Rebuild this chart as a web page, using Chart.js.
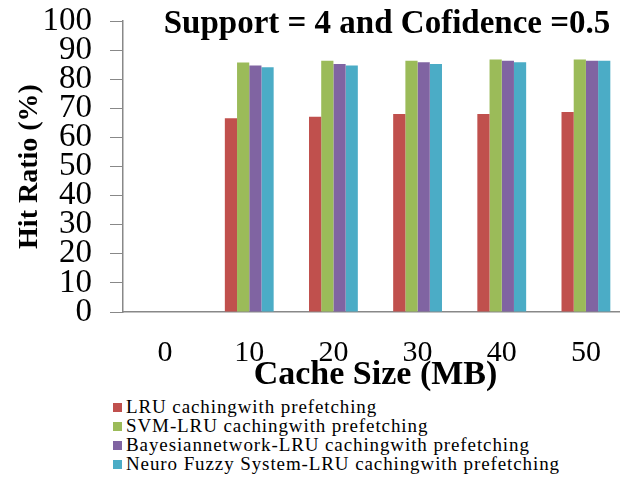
<!DOCTYPE html>
<html>
<head>
<meta charset="utf-8">
<script src="https://cdn.jsdelivr.net/npm/chart.js@4"></script>
<style>
  body { margin: 0; background: #fff; overflow: hidden; width: 620px; height: 485px; position: relative; }
  #wrap { position: absolute; left: 0; top: 0; width: 628px; height: 396px; }
  #legend { position: absolute; left: 113px; top: 397px; font-family: 'Liberation Serif', serif; font-size: 19px; letter-spacing: 0.9px; color: #000; }
  #legend div { height: 19px; line-height: 19px; white-space: nowrap; }
  #legend span { display: inline-block; width: 9px; height: 9px; margin-right: 4px; vertical-align: 1px; }
</style>
</head>
<body>
<div id="wrap"><canvas id="mychart"></canvas></div>
<div id="legend"></div>
<script>
const chartTitle = 'Support = 4 and Cofidence =0.5'
const cacheSizes = ['0', '10', '20', '30', '40', '50']
const lru = [null, 66.6, 67.1, 68.0, 68.0, 68.7]
const svmLru = [null, 85.7, 86.3, 86.3, 86.8, 86.8]
const bayesLru = [null, 84.7, 85.2, 85.8, 86.3, 86.3]
const neuroLru = [null, 84.1, 84.7, 85.2, 85.8, 86.3]
const seriesNames = [
    'LRU cachingwith prefetching',
    'SVM-LRU cachingwith prefetching',
    'Bayesiannetwork-LRU cachingwith prefetching',
    'Neuro Fuzzy System-LRU cachingwith prefetching'
]
const colors = ['#C0504D', '#9BBB59', '#8064A2', '#4BACC6']

const serif = "'Liberation Serif', 'Times New Roman', serif"

const chartData = {
    labels: cacheSizes,
    datasets: [lru, svmLru, bayesLru, neuroLru].map((d, i) => ({
        label: seriesNames[i],
        data: d,
        backgroundColor: colors[i],
        borderWidth: 0,
        categoryPercentage: 0.58,
        barPercentage: 1
    }))
};

// titulo desenhado dentro da area do grafico
const titlePlugin = {
    id: 'innerTitle',
    afterDraw(chart) {
        const ctx = chart.ctx
        ctx.save()
        ctx.font = 'bold 33px ' + serif
        ctx.fillStyle = '#000'
        ctx.textAlign = 'center'
        ctx.textBaseline = 'alphabetic'
        ctx.fillText(chartTitle, 387, 33)
        ctx.restore()
    }
}

const ctx = document.getElementById('mychart').getContext('2d');
const mychart = new Chart(ctx, {
    type: 'bar',
    data: chartData,
    plugins: [titlePlugin],
    options: {
        responsive: true,
        maintainAspectRatio: false,
        animation: false,
        layout: { padding: { top: 21, right: 0, left: 0, bottom: 0 } },
        scales: {
            x: {
                grid: { display: false, drawTicks: false },
                border: { display: true, color: '#888', width: 1.5 },
                ticks: {
                    color: '#000',
                    font: { family: serif, size: 30 },
                    padding: 23,
                    maxRotation: 0
                },
                title: {
                    display: true,
                    text: 'Cache Size (MB)',
                    color: '#000',
                    font: { family: serif, size: 34, weight: 'bold' },
                    padding: { top: 0, bottom: 0 }
                },
                afterFit(scale) {
                    scale.height = 84
                    scale.paddingLeft = 0
                    scale.paddingRight = 0
                }
            },
            y: {
                min: 0,
                max: 100,
                grid: { drawOnChartArea: false, tickLength: 13, color: '#888' },
                border: { display: true, color: '#888', width: 1.5 },
                ticks: {
                    stepSize: 10,
                    autoSkip: false,
                    color: '#000',
                    font: { family: serif, size: 33 },
                    padding: 18
                },
                title: {
                    display: true,
                    text: 'Hit Ratio (%)',
                    color: '#000',
                    font: { family: serif, size: 28, weight: 'bold' },
                    padding: { top: 13, bottom: 0 }
                },
                afterFit(scale) {
                    scale.width = 123
                    scale.paddingTop = 0
                    scale.paddingBottom = 0
                }
            }
        },
        plugins: {
            legend: { display: false },
            tooltip: { enabled: false }
        }
    }
})

// legenda em html, uma linha por serie
const legend = document.getElementById('legend')
mychart.data.datasets.forEach(ds => {
    const row = document.createElement('div')
    const box = document.createElement('span')
    box.style.background = ds.backgroundColor
    row.appendChild(box)
    row.appendChild(document.createTextNode(ds.label))
    legend.appendChild(row)
})
</script>
</body>
</html>
